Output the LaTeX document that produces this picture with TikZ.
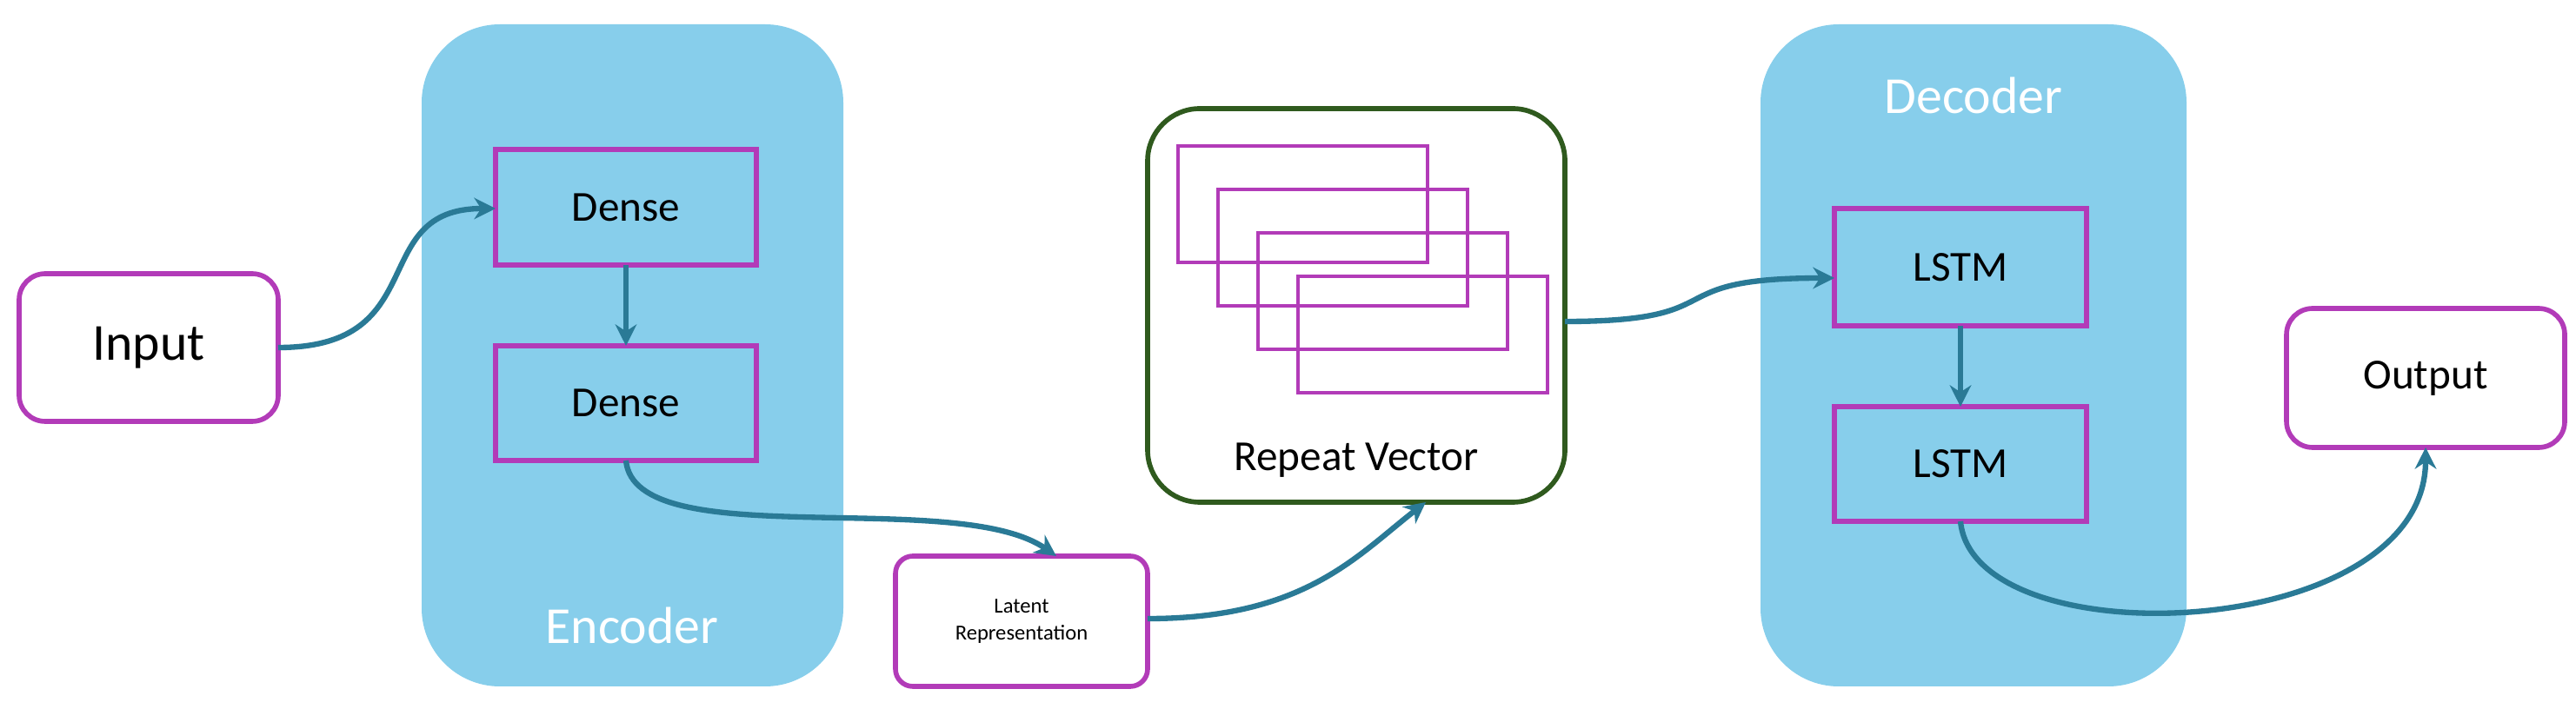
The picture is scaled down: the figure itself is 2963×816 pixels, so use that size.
\documentclass[tikz,border=0pt]{standalone}
\usepackage{fontspec}
\setmainfont{Carlito}
\usetikzlibrary{arrows.meta}
\definecolor{panel}{HTML}{87CEEB}
\definecolor{mag}{HTML}{B23BB8}
\definecolor{arr}{HTML}{2A7A96}
\definecolor{dgreen}{HTML}{2F5A1E}
\begin{document}
\begin{tikzpicture}[x=0.01cm,y=-0.01cm,
  panel/.style={fill=panel,draw=none,rounded corners=0.9cm},
  layer/.style={draw=mag,line width=1.6pt,fill=panel},
  wbox/.style={draw=mag,line width=1.6pt,fill=white,rounded corners=0.3cm},
  conn/.style={draw=arr,line width=1.8pt,-{Stealth[length=7pt,width=7pt]}},
  ptitle/.style={text=white,font=\fontsize{17}{20}\selectfont}]
\useasboundingbox (0,0) rectangle (2963,816);
\path[panel] (485,28) rectangle (970,790);
\path[panel] (2025,28) rectangle (2515,790);
\node[ptitle] (enc) at (727,720) {Encoder};
\node[ptitle] (dec) at (2270,110) {Decoder};
\path[layer] (570,172) rectangle (870,305) node[midway,font=\fontsize{14}{16}\selectfont] (d1) {Dense};
\path[layer] (570,398) rectangle (870,530) node[midway,font=\fontsize{14}{16}\selectfont] (d2) {Dense};
\path[layer] (2110,240) rectangle (2400,375) node[midway,font=\fontsize{14}{16}\selectfont] (l1) {LSTM};
\path[layer] (2110,468) rectangle (2400,600) node[midway,font=\fontsize{14}{16}\selectfont] (l2) {LSTM};
\path[wbox] (22,315) rectangle (320,485) node[midway,font=\fontsize{17}{19}\selectfont] (in) {Input};
\path[wbox] (2630,355) rectangle (2950,515) node[midway,font=\fontsize{14}{16}\selectfont] (out) {Output};
\path[wbox,rounded corners=0.2cm] (1030,640) rectangle (1320,790) node[midway,align=center,font=\fontsize{7}{9}\selectfont] (lat) {Latent\\Representation};
\path[draw=dgreen,line width=1.6pt,fill=white,rounded corners=0.6cm] (1320,125) rectangle (1800,578);
\node[font=\fontsize{14}{16}\selectfont] (rv) at (1560,530) {Repeat Vector};
\foreach \dx/\dy in {0/0,46/50,92/100,138/150}
  \draw[mag,line width=1.4pt] (1355+\dx,168+\dy) rectangle (1642+\dx,302+\dy);
\coordinate (inR) at (320,400); \coordinate (d1L) at (570,240);
\coordinate (d1B) at (720,305); \coordinate (d2T) at (720,398);
\coordinate (d2B) at (720,530); \coordinate (latT) at (1215,640);
\coordinate (latR) at (1320,712); \coordinate (rvB) at (1640,578);
\coordinate (rvR) at (1800,370); \coordinate (l1L) at (2110,320);
\coordinate (l1B) at (2255,375); \coordinate (l2T) at (2255,468);
\coordinate (l2B) at (2255,600); \coordinate (outB) at (2790,515);
\draw[conn] (inR) .. controls (500,400) and (420,240) .. (d1L);
\draw[conn] (d1B) -- (d2T);
\draw[conn] (d2B) .. controls (730,640) and (1100,560) .. (latT);
\draw[conn] (latR) .. controls (1500,712) and (1560,640) .. (rvB);
\draw[conn] (rvR) .. controls (2000,370) and (1900,320) .. (l1L);
\draw[conn] (l1B) -- (l2T);
\draw[conn] (l2B) .. controls (2270,760) and (2790,740) .. (outB);
\end{tikzpicture}
\end{document}
